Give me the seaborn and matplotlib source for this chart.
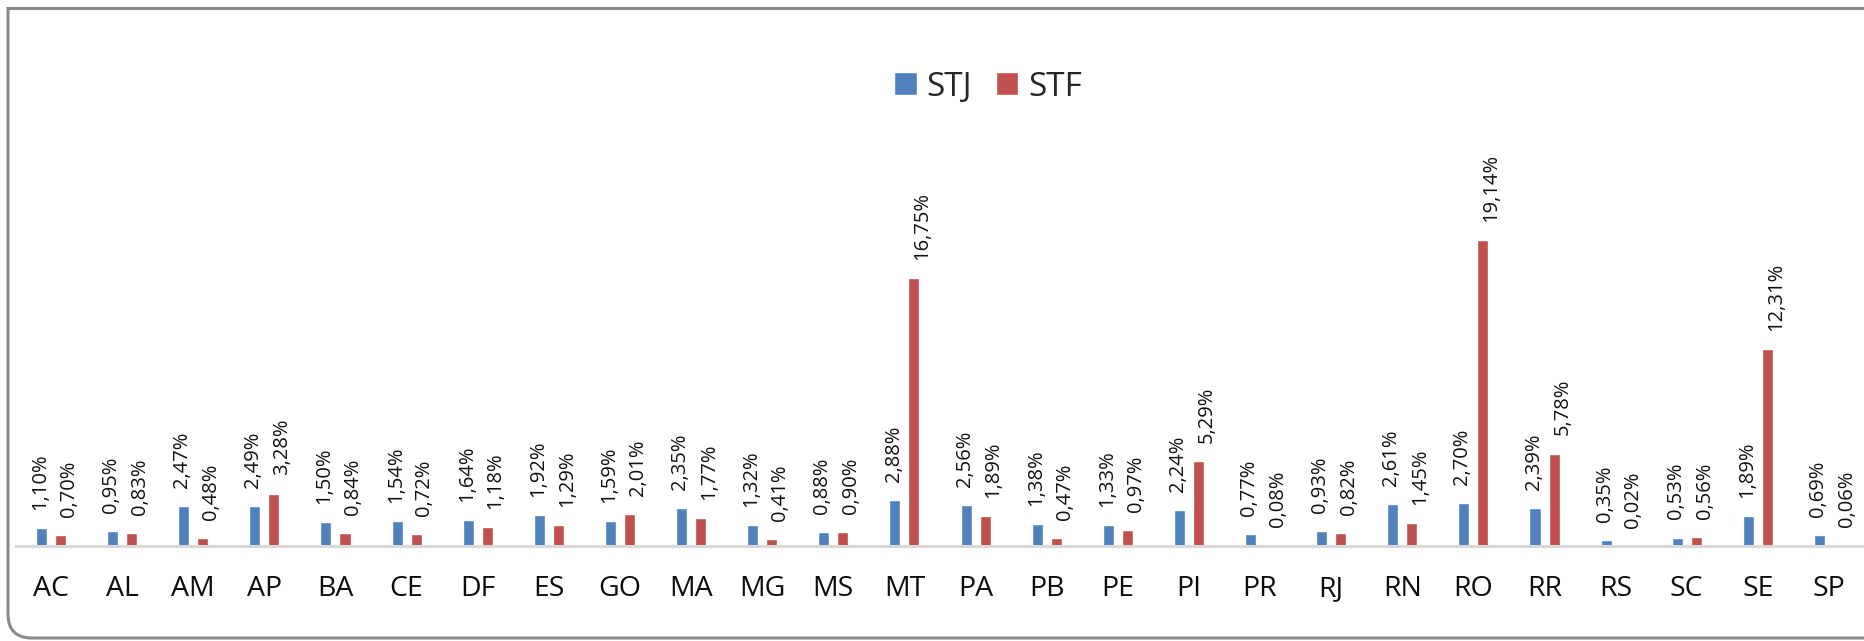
import numpy as np
import pandas as pd
import matplotlib.pyplot as plt
import seaborn as sns
from matplotlib.path import Path
from matplotlib.patches import PathPatch

# ========================= DATA =========================
estados = ['AC', 'AL', 'AM', 'AP', 'BA', 'CE', 'DF', 'ES', 'GO', 'MA', 'MG', 'MS', 'MT',
           'PA', 'PB', 'PE', 'PI', 'PR', 'RJ', 'RN', 'RO', 'RR', 'RS', 'SC', 'SE', 'SP']
stj = [1.10, 0.95, 2.47, 2.49, 1.50, 1.54, 1.64, 1.92, 1.59, 2.35, 1.32, 0.88, 2.88,
       2.56, 1.38, 1.33, 2.24, 0.77, 0.93, 2.61, 2.70, 2.39, 0.35, 0.53, 1.89, 0.69]
stf = [0.70, 0.83, 0.48, 3.28, 0.84, 0.72, 1.18, 1.29, 2.01, 1.77, 0.41, 0.90, 16.75,
       1.89, 0.47, 0.97, 5.29, 0.08, 0.82, 1.45, 19.14, 5.78, 0.02, 0.56, 12.31, 0.06]
series = ['STJ', 'STF']
cores = ['#4F81BD', '#C0504D']

df = pd.DataFrame({'UF': estados * 2,
                   'serie': ['STJ'] * len(estados) + ['STF'] * len(estados),
                   'valor': stj + stf})

# ========================= PLOT =========================
sns.set_style('white')
plt.rcParams['font.family'] = ['Open Sans', 'DejaVu Sans']

W, H = 1864, 641
fig = plt.figure(figsize=(W / 100, H / 100), dpi=100)

# eixo: linha base em y=546 px, AC em x~51 px, SP em x~1829 px
base_y = 546
top_y = 100
ax = fig.add_axes([16 / W, (H - base_y) / H, 1 - 16 / W, (base_y - top_y) / H])

sns.barplot(data=df, x='UF', y='valor', hue='serie', hue_order=series,
            palette=cores, width=0.535, gap=0.42, saturation=1, ax=ax, legend=True)

passo = (1829 - 51) / 25
ax.set_xlim(-(51 - 16) / passo, 25 + (W - 1829) / passo)
ax.set_ylim(0, (base_y - top_y) / 16.0)

# rótulos: STJ quase centrado, STF deslocado para a direita (em pontos)
desloc = [-1, 6]
for cont, vals, dx in zip(ax.containers, [stj, stf], desloc):
    rot = [f"{v:.2f}".replace('.', ',') + '%' for v in vals]
    txts = ax.bar_label(cont, labels=rot, rotation=90, padding=13, fontsize=14.5,
                        color='#111111')
    for t in txts:
        t.xyann = (dx, 13)

ax.set_xlabel('')
ax.set_ylabel('')
ax.set_yticks([])
ax.tick_params(axis='x', length=0, pad=21, labelsize=20.5, colors='#0d0d0d')
for s in ['top', 'right', 'left']:
    ax.spines[s].set_visible(False)
ax.spines['bottom'].set_color('#d9d9d9')
ax.spines['bottom'].set_linewidth(2.2)

leg = ax.legend(loc='center', bbox_to_anchor=(988 / W, (H - 87) / H),
                bbox_transform=fig.transFigure, ncol=2, frameon=False,
                fontsize=24, handlelength=0.68, handleheight=0.68,
                handletextpad=0.3, columnspacing=0.7, borderpad=0)

# moldura: canto superior reto, canto inferior esquerdo arredondado, cortada na direita
x0, yt, yb, r = 8 / W, 1 - 8.5 / H, 3.0 / H, 24
rx, ry = r / W, r / H
verts = [(1.05, yt), (x0, yt), (x0, yb + ry), (x0, yb), (x0 + rx, yb), (1.05, yb)]
codes = [Path.MOVETO, Path.LINETO, Path.LINETO, Path.CURVE3, Path.CURVE3, Path.LINETO]
moldura = PathPatch(Path(verts, codes), transform=fig.transFigure, fill=False,
                    edgecolor='#8a8a8a', linewidth=2.2)
fig.add_artist(moldura)

fig.savefig('out.png', dpi=100)
